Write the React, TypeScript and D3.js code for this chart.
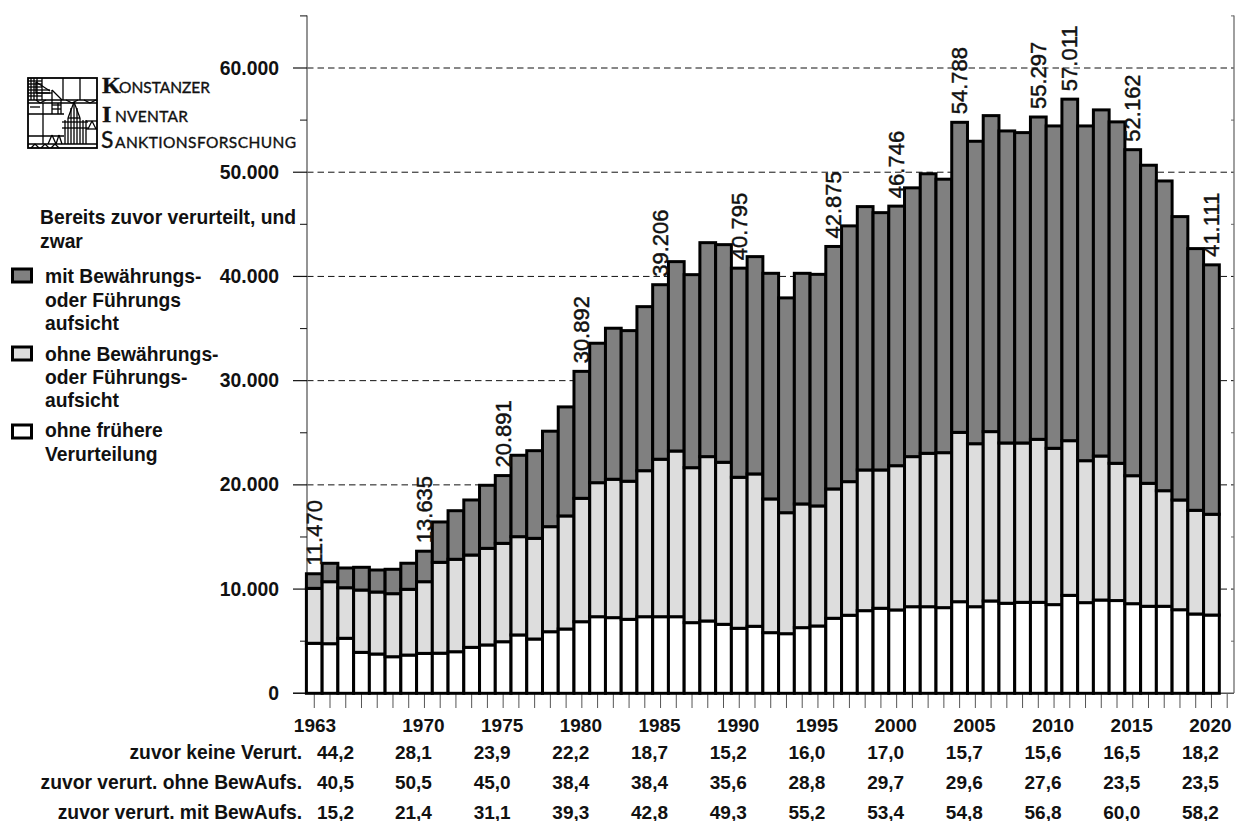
import React from "react";
import * as d3 from "d3";

const years = d3.range(1963, 2021);
// top edge of each cumulative layer (persons)
const noPrior = [4800,4760,5280,3930,3770,3510,3670,3830,3850,3990,4410,4640,4950,5600,5210,5910,6170,6870,7350,7260,7100,7350,7350,7350,6780,6940,6620,6240,6430,5820,5720,6300,6460,7200,7490,7930,8160,8000,8310,8310,8220,8790,8310,8860,8640,8730,8730,8510,9400,8700,8950,8900,8600,8350,8350,8020,7610,7510];
const upToNoSupervision = [10070,10710,10130,9910,9720,9560,9980,10710,12570,12860,13270,13910,14390,15030,14870,15990,17020,18710,20210,20540,20350,21360,22460,23250,21650,22710,22170,20730,21050,18650,17330,18170,17980,19610,20310,21430,21430,21840,22710,23030,23090,25040,23950,25110,24020,24020,24370,23510,24240,22320,22770,22070,20880,20150,19440,18550,17560,17180];
const totals = [11470,12476,12025,12090,11830,11900,12480,13635,16440,17520,18550,19960,20891,22840,23280,25150,27480,30892,33590,35030,34800,37100,39206,41420,40170,43240,43050,40795,41900,40300,37940,40300,40200,42875,44850,46700,46120,46746,48500,49850,49330,54788,52970,55430,53960,53800,55297,54440,57011,54440,55980,54830,52162,50670,49160,45740,42670,41111];
const labelledYears = [1963,1970,1975,1980,1985,1990,1996,2000,2004,2009,2011,2015,2020];
const labelledText = ["11.470","13.635","20.891","30.892","39.206","40.795","42.875","46.746","54.788","55.297","57.011","52.162","41.111"];
const layerColors = ["#ffffff", "#dddddd", "#808080"];

const majorTicks = [0,10000,20000,30000,40000,50000,60000];
const minorTicks = [5000,15000,25000,35000,45000,55000,65000];
const columnYears = [1963,1970,1975,1980,1985,1990,1995,2000,2005,2010,2015,2020];
const rowLabels = ["zuvor keine Verurt.","zuvor verurt. ohne BewAufs.","zuvor verurt. mit BewAufs."];
const rowKeine = ["44,2","28,1","23,9","22,2","18,7","15,2","16,0","17,0","15,7","15,6","16,5","18,2"];
const rowOhne = ["40,5","50,5","45,0","38,4","38,4","35,6","28,8","29,7","29,6","27,6","23,5","23,5"];
const rowMit = ["15,2","21,4","31,1","39,3","42,8","49,3","55,2","53,4","54,8","56,8","60,0","58,2"];

// Logo line work (decorative drawing, in px relative to the logo box)
const logoLines: number[][] = [
  [0,22,69,22],[0,25,69,25],[0,36,36,36],[0,58,36,58],[0,66,69,66],[58,43,69,43],[58,51,69,51],
  [35,0,35,22],[52,0,52,22],[15,25,15,66],[30,25,30,36],[24,22,24,36],[33,22,33,36],[24,27,33,27],[24,31,33,31],
  [0,3,14,3],[0,6,14,6],[0,9,14,9],[0,12,22,12],[0,15,24,15],[0,18,14,18],[3,0,3,22],[6,0,6,22],[9,0,9,22],[14,0,14,22],
  [8,4,22,13],[8,4,8,15],[8,15,22,15],[24,12,34,22],[24,12,24,22],
  [46,24,40,40],[46,24,52,40],[40,40,52,40],[43,30,43,66],[46,26,46,66],[49,30,49,66],[37,42,37,66],[40,40,40,66],[52,40,52,66],[55,42,55,66],[58,42,58,66],[34,44,60,44],[34,50,60,50],
  [20,66,24,57],[24,57,28,66],[28,66,31,57],[31,57,34,66],[60,51,64,43],[64,43,68,51],
  [3,70,7,66],[7,66,11,70],[13,70,17,66],[17,66,21,70],[23,70,27,66],[27,66,31,70],[2,29,12,29],[38,22,44,25],[44,25,50,22],[56,22,62,25],[62,25,68,22],[8,22,12,25],[12,25,18,22],
];
const legendItems = [
  { color: "#808080", lines: ["mit Bewährungs-","oder Führungs","aufsicht"], base: [283,307,330], box: 268 },
  { color: "#dddddd", lines: ["ohne Bewährungs-","oder Führungs-","aufsicht"], base: [361,384,407], box: 346 },
  { color: "#ffffff", lines: ["ohne frühere","Verurteilung"], base: [437,461], box: 424 },
];

const y = d3.scaleLinear().domain([0, 60000]).range([693.3, 68]);
const x = d3.scaleBand<number>().domain(years).range([306.4, 306.4 + 58 * 15.74]).padding(0);
const cx = (yr: number) => (x(yr) as number) + x.bandwidth() / 2;
const tickYears = [...years, 2021];
const tickX = d3.scaleLinear().domain([1963, 2020]).range([cx(1963), cx(2020)]);
const AXIS_RIGHT = 1234;
const sans = "'Liberation Sans', Arial, sans-serif";

export default function App() {
  const layers = [noPrior, upToNoSupervision, totals];
  return (
    <svg width={1235} height={821} style={{ position: "absolute", left: 0, top: 0, background: "#fff" }} fontFamily={sans}>
      {/* grid */}
      {majorTicks.slice(1).map((t) => (
        <line key={t} x1={307} x2={AXIS_RIGHT} y1={y(t)} y2={y(t)} stroke="#111" strokeWidth={1} strokeDasharray="6.5 4" />
      ))}
      {/* axes */}
      <line x1={307} x2={307} y1={15.5} y2={693} stroke="#666" strokeWidth={1.4} />
      <line x1={AXIS_RIGHT} x2={AXIS_RIGHT} y1={15.5} y2={693} stroke="#777" strokeWidth={1.4} />
      <line x1={293} x2={AXIS_RIGHT} y1={y(0)} y2={y(0)} stroke="#555" strokeWidth={1.4} />
      {majorTicks.map((t) => (
        <line key={t} x1={293} x2={307} y1={y(t)} y2={y(t)} stroke="#111" strokeWidth={1.2} />
      ))}
      {minorTicks.map((t) => (
        <g key={t}>
          <line x1={300} x2={307} y1={y(t)} y2={y(t)} stroke="#222" strokeWidth={1.1} />
          <line x1={1231} x2={AXIS_RIGHT} y1={y(t)} y2={y(t)} stroke="#666" strokeWidth={1} />
        </g>
      ))}
      {majorTicks.map((t) => (
        <text key={t} x={279} y={y(t) + 6.5} textAnchor="end" fontWeight="bold" fontSize={19.4} fill="#111">
          {d3.format(",")(t).replace(/,/g, ".")}
        </text>
      ))}
      {tickYears.map((yr) => (
        <line key={yr} x1={tickX(yr)} x2={tickX(yr)} y1={694} y2={708} stroke="#555" strokeWidth={1} />
      ))}
      {/* bars */}
      {years.map((yr, i) =>
        layers.map((layer, k) => {
          const lower = k === 0 ? 0 : layers[k - 1][i];
          return (
            <rect key={k} x={x(yr)} width={x.bandwidth()} y={y(layer[i])} height={y(lower) - y(layer[i])}
              fill={layerColors[k]} stroke="#000" strokeWidth={3} />
          );
        })
      )}
      {/* value labels */}
      {labelledYears.map((yr, i) => (
        <text key={yr} transform={`translate(${cx(yr) + 7.5},${y(totals[years.indexOf(yr)]) - 8}) rotate(-90)`} fontSize={22} fill="#111" stroke="#111" strokeWidth={0.45}>
          {labelledText[i]}
        </text>
      ))}
      {/* year row + table */}
      {columnYears.map((yr, c) => {
        const cxLabel = yr === 1963 ? 315 : cx(yr) - 1;
        const cxVal = yr === 1963 ? 335.5 : cx(yr) - 11;
        return (
          <g key={yr} fontWeight="bold" fontSize={19} fill="#111" textAnchor="middle">
            <text x={cxLabel} y={732}>{yr}</text>
            <text x={cxVal} y={758.5}>{rowKeine[c]}</text>
            <text x={cxVal} y={788.5}>{rowOhne[c]}</text>
            <text x={cxVal} y={818.5}>{rowMit[c]}</text>
          </g>
        );
      })}
      {rowLabels.map((r, i) => (
        <text key={r} x={302} y={758.5 + i * 30} textAnchor="end" fontWeight="bold" fontSize={19.3} fill="#111">{r}</text>
      ))}
      {/* legend */}
      <g fontWeight="bold" fontSize={19.3} fill="#111">
        <text x={40} y={224}>Bereits zuvor verurteilt, und</text>
        <text x={40} y={248}>zwar</text>
        {legendItems.map((item) => (
          <g key={item.box}>
            <rect x={12.5} y={item.box + 1} width={19} height={13} fill={item.color} stroke="#000" strokeWidth={3} />
            {item.lines.map((l, j) => (
              <text key={j} x={45} y={item.base[j]}>{l}</text>
            ))}
          </g>
        ))}
      </g>
      {/* logo */}
      <g transform="translate(28,78)" stroke="#000" strokeWidth={1.3} fill="none">
        <rect x={0} y={0} width={69} height={70} strokeWidth={1.8} />
        {logoLines.map((s, i) => (
          <line key={i} x1={s[0]} y1={s[1]} x2={s[2]} y2={s[3]} />
        ))}
      </g>
      <g fill="#111" stroke="#111" strokeWidth={0.35}>
        <text x={102} y={93} fontFamily="'Liberation Serif', serif" fontWeight="bold" fontSize={24}>K</text>
        <text x={119} y={93} fontFamily="Lato, sans-serif" fontSize={15.5} textLength={91} lengthAdjust="spacing">ONSTANZER</text>
        <text x={102} y={122} fontFamily="'Liberation Serif', serif" fontWeight="bold" fontSize={24}>I</text>
        <text x={115} y={122} fontFamily="Lato, sans-serif" fontSize={15.5} textLength={73} lengthAdjust="spacing">NVENTAR</text>
        <text x={101} y={148} fontFamily="Lato, sans-serif" fontSize={23}>S</text>
        <text x={115} y={148} fontFamily="Lato, sans-serif" fontSize={15.5} textLength={181} lengthAdjust="spacing">ANKTIONSFORSCHUNG</text>
      </g>
    </svg>
  );
}
